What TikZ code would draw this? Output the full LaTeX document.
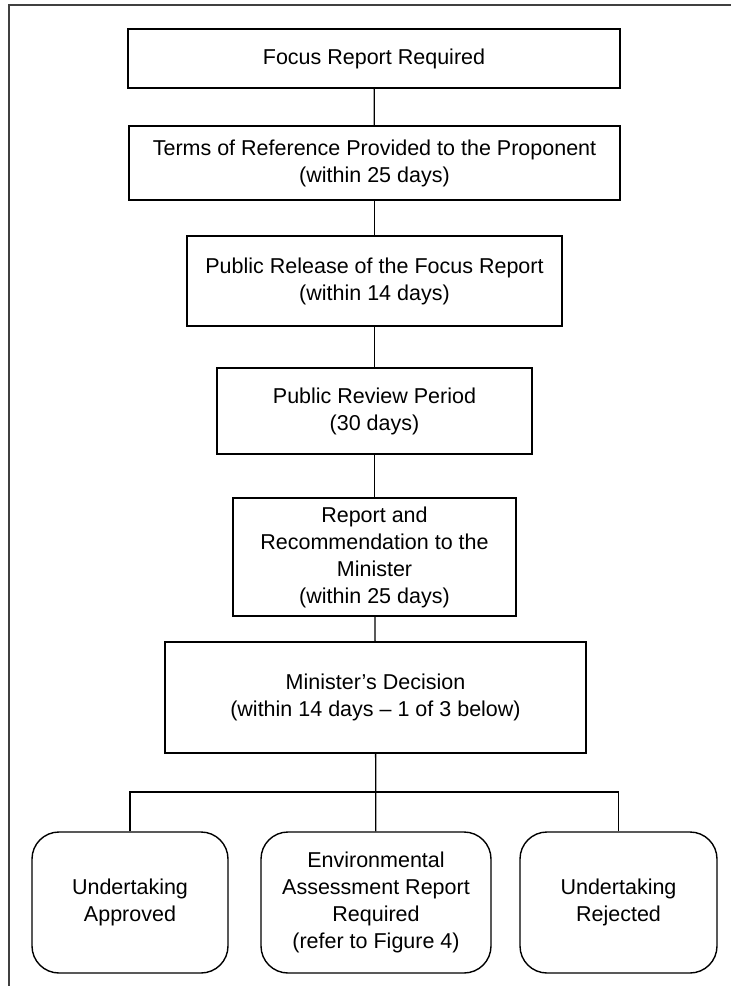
\documentclass[tikz,border=0pt]{standalone}
\usepackage{fontspec}
\setmainfont{Liberation Sans}
\begin{document}
\begin{tikzpicture}[x=1pt,y=-1pt,
  box/.style={draw=black,line width=1.4pt,rectangle,align=center,inner sep=0pt,
    font=\fontsize{21.5}{27}\selectfont},
  rbox/.style={box,rounded corners=27pt},
  link/.style={draw=black,line width=1.3pt},
  frameline/.style={draw=black!75,line width=2pt}]
\useasboundingbox (0,0) rectangle (731,986);
\draw[frameline] (731,5) -- (9,5) -- (9,986);
\node[box,minimum width=492pt,minimum height=59pt] (b1) at (374,58.5) {Focus Report Required};
\node[box,minimum width=491pt,minimum height=74pt] (b2) at (374.5,163) {Terms of Reference Provided to the Proponent\\(within 25 days)};
\node[box,minimum width=375pt,minimum height=90pt] (b3) at (374.5,281) {Public Release of the Focus Report\\(within 14 days)};
\node[box,minimum width=315pt,minimum height=86pt] (b4) at (374.5,411) {Public Review Period\\(30 days)};
\node[box,minimum width=283pt,minimum height=118pt] (b5) at (374.5,557) {Report and\\Recommendation to the\\Minister\\(within 25 days)};
\node[box,minimum width=421pt,minimum height=111pt] (b6) at (375.5,697.5) {Minister’s Decision\\(within 14 days – 1 of 3 below)};
\node[rbox,minimum width=196pt,minimum height=141pt] (r1) at (130,902.5) {Undertaking\\Approved};
\node[rbox,minimum width=230pt,minimum height=141pt] (r2) at (376,902.5) {Environmental\\Assessment Report\\Required\\(refer to Figure 4)};
\node[rbox,minimum width=197pt,minimum height=141pt] (r3) at (618.5,902.5) {Undertaking\\Rejected};
\coordinate (bus) at (376,792);
\draw[link] (b1) -- (b2);
\draw[link] (b2) -- (b3);
\draw[link] (b3) -- (b4);
\draw[link] (b4) -- (b5);
\draw[link] (b5) -- (b6);
\draw[link] (b6) -- (r2);
\draw[link] (r1.north) |- (bus) -| (r3.north);
\end{tikzpicture}
\end{document}
